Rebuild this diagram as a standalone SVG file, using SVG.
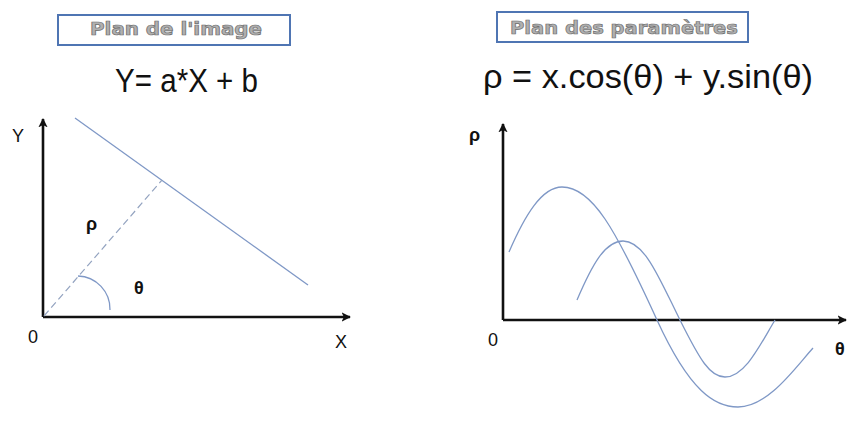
<svg xmlns="http://www.w3.org/2000/svg" width="847" height="427" viewBox="0 0 847 427">
<defs>
<marker id="arr" viewBox="0 0 10 10" refX="9" refY="5" markerWidth="3.6" markerHeight="3.6" orient="auto" markerUnits="strokeWidth">
<path d="M0,0 L10,5 L0,10 L2.5,5 Z" fill="#111"/>
</marker>
<style>
.axis{stroke:#111;stroke-width:2.6;fill:none}
.blue{stroke:#7f98c6;stroke-width:1.3;fill:none}
.dash{stroke:#93a3c0;stroke-width:1.2;fill:none;stroke-dasharray:7 4}
.box{fill:#fff;stroke:#4f75b3;stroke-width:2}
.title{font-family:"DejaVu Sans",sans-serif;font-weight:bold;fill:#b0b0b0;stroke:#6e6e6e;stroke-width:0.7;text-anchor:middle}
.formula{font-family:"Liberation Sans",Arial,sans-serif;fill:#111;font-size:34px}
.lbl{font-family:"Liberation Sans",Arial,sans-serif;fill:#111;font-size:18px}
.bold{font-family:"Liberation Sans",Arial,sans-serif;fill:#111;font-weight:bold;font-size:18px}
</style>
</defs>
<rect width="847" height="427" fill="#fff"/>

<g id="title-image">
<rect class="box" x="58" y="15" width="232" height="30"/>
<text class="title" x="176" y="35" font-size="17" textLength="172" lengthAdjust="spacingAndGlyphs">Plan de l'image</text>
</g>
<g id="title-params">
<rect class="box" x="497" y="12" width="251" height="30"/>
<text class="title" x="624" y="34" font-size="18" textLength="228" lengthAdjust="spacingAndGlyphs">Plan des paramètres</text>
</g>

<g id="formula-image">
<text class="formula" x="115" y="92" font-size="36" textLength="143" lengthAdjust="spacingAndGlyphs">Y= a*X + b</text>
</g>
<g id="formula-params">
<text class="formula" x="483" y="88" textLength="330" lengthAdjust="spacingAndGlyphs">ρ = x.cos(θ) + y.sin(θ)</text>
</g>

<g id="image-plane">
<line class="axis" x1="43" y1="317" x2="43" y2="119" marker-end="url(#arr)"/>
<line class="axis" x1="43" y1="317" x2="350" y2="317" marker-end="url(#arr)"/>
<line class="blue" x1="75" y1="118" x2="308" y2="285"/>
<line class="dash" x1="44" y1="316" x2="162" y2="180"/>
<path class="blue" d="M78,276 A33,33 0 0 1 110,310"/>
<text class="lbl" x="12" y="142">Y</text>
<text class="lbl" x="28" y="343">0</text>
<text class="lbl" x="335" y="348">X</text>
<text class="bold" x="86" y="230">ρ</text>
<text class="bold" x="134" y="294">θ</text>
</g>

<g id="parameter-plane">
<line class="axis" x1="503" y1="320" x2="503" y2="124" marker-end="url(#arr)"/>
<line class="axis" x1="503" y1="320" x2="846" y2="320" marker-end="url(#arr)"/>
<path class="blue" d="M509,252 C525,215 542,187 562,187 C592,187 615,228 657,320 C690,392 715,407 738,407 C768,407 795,368 813,348"/>
<path class="blue" d="M577,300 C592,265 605,241 623,241 C645,241 660,280 680,320 C700,360 710,377 725,377 C745,377 760,345 775,320"/>
<text class="bold" x="469" y="141">ρ</text>
<text class="lbl" x="488" y="346">0</text>
<text class="bold" x="835" y="355">θ</text>
</g>
</svg>
